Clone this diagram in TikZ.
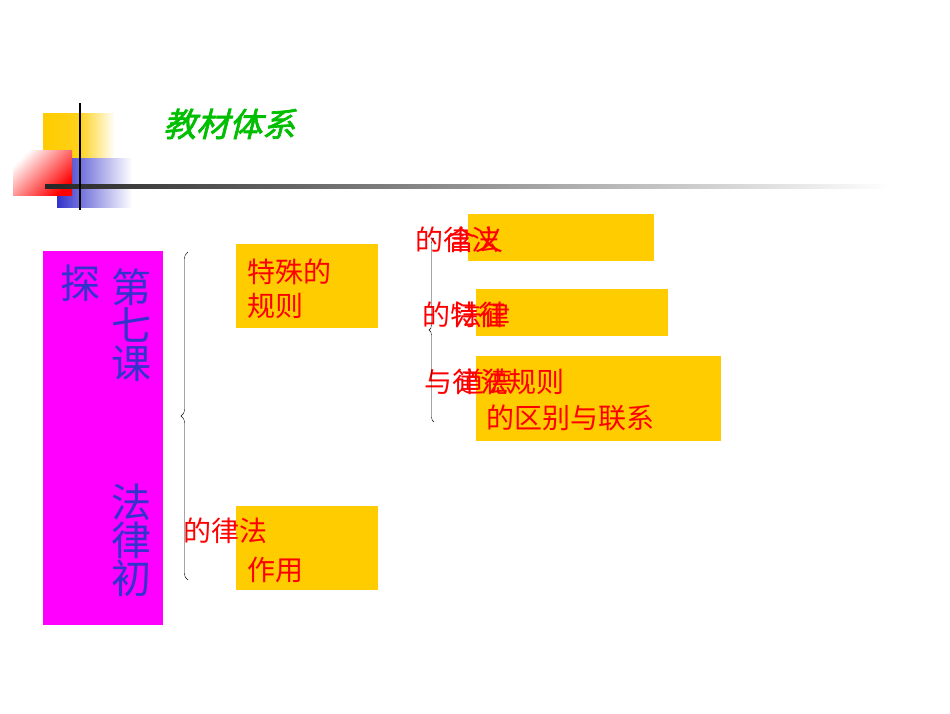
\documentclass[tikz,border=0pt]{standalone}
\usepackage{fontspec}
\newfontfamily\cjk{Noto Sans CJK SC}
\newfontfamily\cjkt[FakeSlant=0.25,FakeBold=2]{Noto Sans CJK SC}
\usetikzlibrary{decorations.pathreplacing}
\definecolor{gold}{RGB}{255,204,0}
\definecolor{mag}{RGB}{255,0,255}
\definecolor{blu}{RGB}{51,51,204}
\tikzset{ybox/.style={fill=gold,draw=none},
 rt/.style={text=red,font=\cjk\fontsize{28}{34}\selectfont,anchor=west,inner sep=0pt},
 bt/.style={text=blu,font=\cjk\fontsize{40}{44}\selectfont,inner sep=0pt},
 br/.style={draw=black,thin,decorate,decoration={brace,amplitude=6pt,mirror}}}
\begin{document}
\begin{tikzpicture}[x=1pt,y=-1pt]
\useasboundingbox (0,0) rectangle (950,713);
\shade[left color=gold,right color=white,middle color=gold!90] (43,113) rectangle (115,160);
\shade[left color=blu,right color=white] (57,158) rectangle (132,207);
\shade[left color=white,right color=red,shading angle=45] (13,150) rectangle (72,195);
\shade[left color=black!85,right color=white] (45,184) rectangle (890,188);
\draw[line width=2.5pt] (80,103) -- (80,210);
\node[text={rgb,255:red,0;green,190;blue,0},font=\cjkt\fontsize{33}{38}\selectfont,anchor=west,inner sep=0pt] (title) at (163,124) {教材体系};
\node[fill=mag,minimum width=120,minimum height=374,inner sep=0pt,anchor=north west] (main) at (43,251) {};
\node[bt] (t1) at (80,283) {探};
\node[bt,align=center] (t2) at (131,325) {第\\[-6pt]七\\[-6pt]课};
\node[bt,align=center] (t3) at (131,540) {法\\[-6pt]律\\[-6pt]初};
\node[ybox,minimum width=142,minimum height=84,anchor=north west,inner sep=0pt] (b1) at (236,244) {};
\node[rt,align=left] (b1t) at (247,289) {特殊的\\规则};
\node[ybox,minimum width=142,minimum height=84,anchor=north west,inner sep=0pt] (b2) at (236,506) {};
\node[rt] (b2a) at (183,531) {的律法};
\node[rt] (b2b) at (247,570) {作用};
\node[ybox,minimum width=186,minimum height=47,anchor=north west,inner sep=0pt] (r1) at (468,214) {};
\node[ybox,minimum width=192,minimum height=47,anchor=north west,inner sep=0pt] (r2) at (476,289) {};
\node[ybox,minimum width=245,minimum height=85,anchor=north west,inner sep=0pt] (r3) at (476,356) {};
\node[rt] (r1a) at (415,240) {的律法};
\node[rt] (r1b) at (447,240) {含义};
\node[rt] (r2a) at (422,315) {的特征};
\node[rt] (r2b) at (454,315) {法律};
\node[rt] (r3a) at (424,382) {与律法规则};
\node[rt] (r3b) at (456,382) {道德};
\node[rt] (r3c) at (486,418) {的区别与联系};
\coordinate (c1) at (188,252);
\coordinate (c2) at (188,580);
\draw[br,decoration={amplitude=7pt}] (c1) -- (c2);
\coordinate (d1) at (434,238);
\coordinate (d2) at (434,422);
\draw[br,decoration={amplitude=5pt}] (d1) -- (d2);
\end{tikzpicture}
\end{document}
